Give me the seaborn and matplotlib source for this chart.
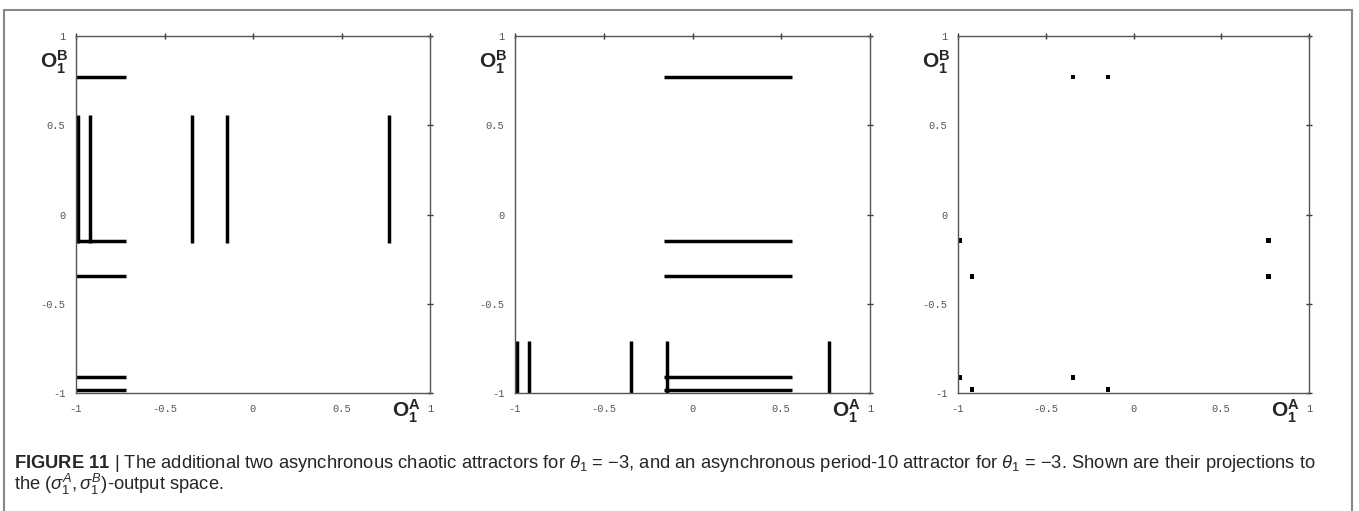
import pandas as pd
import seaborn as sns
import matplotlib.pyplot as plt
from matplotlib.patches import Rectangle

# 数据: 吸引子在 (o1A, o1B) 输出空间的投影
# 图1: 水平线 (y = p1_h_y, x 从 -1 到 -0.72), 竖线 (x = p1_v_x, y 从 -0.16 到 0.56)
p1_h_y = [0.77, -0.145, -0.345, -0.91, -0.98]
p1_h_x = (-1.0, -0.72)
p1_v_x = [-0.99, -0.92, -0.345, -0.145, 0.77]
p1_v_y = (-0.16, 0.56)
# 图2: 水平线 x 从 -0.16 到 0.56, 竖线 y 从 -1 到 -0.71
p2_h_y = [0.77, -0.145, -0.345, -0.91, -0.98]
p2_h_x = (-0.16, 0.56)
p2_v_x = [-0.99, -0.92, -0.345, -0.145, 0.77]
p2_v_y = (-1.0, -0.71)
# 图3: 周期10吸引子
p3_x = [-0.345, -0.145, -0.99, -0.92, 0.77, 0.77, -0.99, -0.345, -0.92, -0.145]
p3_y = [0.77, 0.77, -0.145, -0.345, -0.145, -0.345, -0.91, -0.91, -0.98, -0.98]

ticks = [-1, -0.5, 0, 0.5, 1]
tick_labels = ["-1", "-0.5", "0", "0.5", "1"]

caption_1 = (r"$\mathbf{FIGURE\ 11}$ | The additional two asynchronous chaotic attractors for "
             r"$\theta_1$ = −3, and an asynchronous period-10 attractor for $\theta_1$ = −3. "
             r"Shown are their projections to")
caption_2 = r"the ($\sigma_1^A, \sigma_1^B$)-output space."


def segments(h_y, h_x, v_x, v_y):
    rows = []
    k = 0
    for y in h_y:
        rows += [(k, h_x[0], y), (k, h_x[1], y)]
        k += 1
    for x in v_x:
        rows += [(k, x, v_y[0]), (k, x, v_y[1])]
        k += 1
    return pd.DataFrame(rows, columns=["seg", "x", "y"])


sns.set_style("white")
plt.rcParams['font.family'] = ['Liberation Sans', 'DejaVu Sans']
plt.rcParams['mathtext.fontset'] = 'custom'
plt.rcParams['mathtext.rm'] = 'Liberation Sans'
plt.rcParams['mathtext.it'] = 'Liberation Sans:italic'
plt.rcParams['mathtext.bf'] = 'Liberation Sans:bold'

fig = plt.figure(figsize=(13.59, 5.11), dpi=100)
lefts = [76 / 1359, 515 / 1359, 958 / 1359]
widths = [354 / 1359, 355 / 1359, 351 / 1359]
bottom = 1 - 393.3 / 511
height = (393.3 - 36) / 511
axes = [fig.add_axes([l, bottom, w, height]) for l, w in zip(lefts, widths)]

df1 = segments(p1_h_y, p1_h_x, p1_v_x, p1_v_y)
df2 = segments(p2_h_y, p2_h_x, p2_v_x, p2_v_y)
for ax, df in zip(axes[:2], [df1, df2]):
    sns.lineplot(data=df, x="x", y="y", units="seg", estimator=None, sort=False,
                 color="black", linewidth=2.5, solid_capstyle="butt", ax=ax, legend=False)
sns.scatterplot(x=p3_x, y=p3_y, marker="s", s=12, color="black", edgecolor="none", ax=axes[2])

for ax in axes:
    ax.set_xlim(-1, 1)
    ax.set_ylim(-1, 1)
    ax.set_xticks(ticks)
    ax.set_yticks(ticks)
    ax.set_xticklabels(tick_labels)
    ax.set_yticklabels(tick_labels)
    ax.set_xlabel("")
    ax.set_ylabel("")
    for s in ax.spines.values():
        s.set_visible(True)
        s.set_color("#555555")
        s.set_linewidth(1.0)
    ax.tick_params(direction="inout", length=5, width=1, color="#333333",
                   top=True, right=True, labelsize=7.5, labelcolor="#555555", pad=5)
    for lab in ax.get_xticklabels() + ax.get_yticklabels():
        lab.set_fontfamily("Liberation Mono")
    ax.text(-0.022, 0.925, r"$\mathbf{O}_\mathbf{1}^\mathbf{B}$", transform=ax.transAxes,
            ha="right", va="center", fontsize=15)
    ax.text(0.932, -0.05, r"$\mathbf{O}_\mathbf{1}^\mathbf{A}$", transform=ax.transAxes,
            ha="center", va="center", fontsize=15)

# 外框
fig.patches.append(Rectangle((4 / 1359, -0.05), 1348 / 1359, 1 - 9.5 / 511 + 0.05,
                             transform=fig.transFigure, fill=False,
                             edgecolor="#888888", linewidth=1.5))

fig.text(14 / 1359, 1 - 468 / 511, caption_1, fontsize=13.2, ha="left", va="baseline")
fig.text(14 / 1359, 1 - 490 / 511, caption_2, fontsize=13.2, ha="left", va="baseline")

fig.savefig("out.png", dpi=100)
